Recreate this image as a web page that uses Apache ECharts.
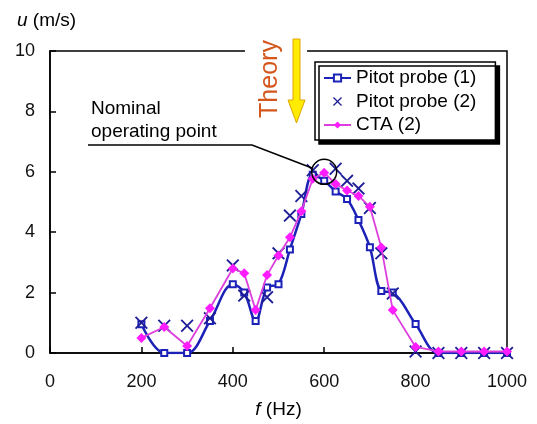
<!DOCTYPE html>
<html>
<head>
<meta charset="utf-8">
<script src="https://cdn.jsdelivr.net/npm/echarts@6/dist/echarts.min.js"></script>
<style>
  html, body { margin: 0; padding: 0; background: #fff; }
  #chart { width: 537px; height: 424px; }
</style>
</head>
<body>
<div id="chart"></div>
<script>
const chart = echarts.init(document.getElementById('chart'))

// Pitot probe (1) and CTA (2) share frequencies
const freq = [200, 250, 300, 350, 400, 425, 450, 475, 500, 525, 550, 575, 600, 625, 650, 675, 700, 725, 750, 800, 850, 900, 950, 1000]
const pitot1 = [0.95, 0.0, 0.0, 1.06, 2.28, 2.0, 1.06, 2.17, 2.28, 3.43, 4.6, 5.9, 5.7, 5.35, 5.1, 4.4, 3.5, 2.05, 2.0, 0.96, 0.0, 0.0, 0.0, 0.0]
const cta2 = [0.5, 0.86, 0.23, 1.48, 2.8, 2.64, 1.42, 2.58, 3.23, 3.83, 4.69, 5.77, 5.97, 5.6, 5.38, 5.2, 4.84, 3.49, 1.42, 0.2, 0.05, 0.05, 0.05, 0.05]

// Pitot probe (2), markers only
const freq2 = [200, 250, 300, 350, 400, 425, 475, 500, 525, 550, 575, 625, 650, 675, 700, 725, 750, 800, 850, 900, 950, 1000]
const pitot2 = [1.0, 0.9, 0.9, 1.15, 2.9, 1.9, 1.85, 3.3, 4.55, 5.2, 6.05, 6.1, 5.7, 5.45, 4.8, 3.3, 1.97, 0.05, 0.0, 0.0, 0.0, 0.0]

const nominal = [600, 6.0]

const pairs = (xs, ys) => xs.map((x, i) => [x, ys[i]])

const font = 'Liberation Sans, Arial, sans-serif'
const crossPath = 'path://M0,1L1,0L5,4L9,0L10,1L6,5L10,9L9,10L5,6L1,10L0,9L4,5Z'

const option = {
	backgroundColor: '#fff',
	animation: false,
	textStyle: { fontFamily: font },
	grid: {
		left: 50,
		right: 30,
		top: 51,
		bottom: 69,
		show: true,
		borderColor: '#000',
		borderWidth: 1.5,
	},
	legend: {
		orient: 'vertical',
		left: 315,
		top: 62,
		padding: [6, 19, 5, 8],
		itemGap: 3.5,
		itemWidth: 27,
		itemHeight: 9,
		backgroundColor: '#fff',
		borderColor: '#000',
		borderWidth: 1.5,
		shadowColor: '#000',
		shadowBlur: 0,
		shadowOffsetX: 4,
		shadowOffsetY: 4,
		textStyle: { fontSize: 19, lineHeight: 20, color: '#000', fontFamily: font },
		data: ['Pitot probe (1)', 'Pitot probe (2)', 'CTA (2)'],
	},
	xAxis: {
		type: 'value',
		min: 0,
		max: 1000,
		interval: 200,
		name: '{i|f} (Hz)',
		nameLocation: 'middle',
		nameGap: 47,
		nameTextStyle: {
			fontSize: 19,
			color: '#000',
			rich: { i: { fontStyle: 'italic', fontSize: 19, color: '#000' } },
		},
		axisLine: { lineStyle: { color: '#000', width: 1.5 } },
		axisTick: { inside: true, length: 6, lineStyle: { color: '#000', width: 1.5 } },
		axisLabel: { fontSize: 18, color: '#111', margin: 20, formatter: (v) => String(v) },
		splitLine: { show: false },
	},
	yAxis: {
		type: 'value',
		min: 0,
		max: 10,
		interval: 2,
		axisLine: { show: true, lineStyle: { color: '#000', width: 1.5 } },
		axisTick: { show: true, inside: true, length: 6, lineStyle: { color: '#000', width: 1.5 } },
		axisLabel: { fontSize: 18, color: '#111', margin: 15 },
		splitLine: { show: false },
	},
	series: [
		{
			name: 'Pitot probe (1)',
			type: 'line',
			smooth: 0.35,
			data: pairs(freq, pitot1),
			symbol: 'emptyRect',
			symbolSize: 6,
			lineStyle: { color: '#1c22b8', width: 2.5 },
			itemStyle: { color: '#1c22b8', borderWidth: 1.5 },
			z: 2,
		},
		{
			name: 'Pitot probe (2)',
			type: 'scatter',
			data: pairs(freq2, pitot2),
			symbol: crossPath,
			symbolSize: 13,
			itemStyle: { color: '#1d1d96', opacity: 1 },
			z: 3,
		},
		{
			name: 'CTA (2)',
			type: 'line',
			data: pairs(freq, cta2),
			symbol: 'diamond',
			symbolSize: 10,
			lineStyle: { color: '#dd3fdd', width: 1.8 },
			itemStyle: { color: '#ff1cff' },
			z: 4,
			markPoint: {
				symbol: 'circle',
				symbolSize: 25,
				silent: true,
				label: { show: false },
				itemStyle: { color: 'rgba(0,0,0,0)', borderColor: '#000', borderWidth: 1.5 },
				data: [{ coord: nominal }],
			},
		},
	],
	graphic: [
		// gap in the top frame where the theory arrow sits
		{ type: 'rect', z: 100, shape: { x: 245, y: 47, width: 62, height: 8 }, style: { fill: '#fff' } },
		{
			type: 'text',
			z: 101,
			x: 17,
			y: 21,
			style: {
				text: '{i|u} (m/s)',
				font: '19px ' + font,
				fill: '#000',
				verticalAlign: 'middle',
				rich: { i: { fontStyle: 'italic', fontSize: 19, fill: '#000' } },
			},
		},
		{
			type: 'text',
			z: 101,
			x: 270,
			y: 79,
			rotation: Math.PI / 2,
			style: {
				text: 'Theory',
				font: '25px ' + font,
				fill: '#d4561c',
				align: 'center',
				verticalAlign: 'middle',
			},
		},
		{
			type: 'polygon',
			z: 101,
			shape: {
				points: [[293, 39], [300, 39], [300, 100], [305, 100], [296.5, 123], [288, 100], [293, 100]],
			},
			style: { fill: '#ffec00', stroke: '#e0a400', lineWidth: 1 },
		},
		{
			type: 'text',
			z: 101,
			x: 91,
			y: 120,
			style: {
				text: 'Nominal\noperating point',
				font: '19px ' + font,
				lineHeight: 23,
				fill: '#000',
				verticalAlign: 'middle',
			},
		},
		{
			type: 'polyline',
			z: 101,
			shape: { points: [[88, 145], [252, 145], [312, 168]] },
			style: { stroke: '#000', lineWidth: 1.5, fill: null },
		},
	],
}

chart.setOption(option)
</script>
</body>
</html>
